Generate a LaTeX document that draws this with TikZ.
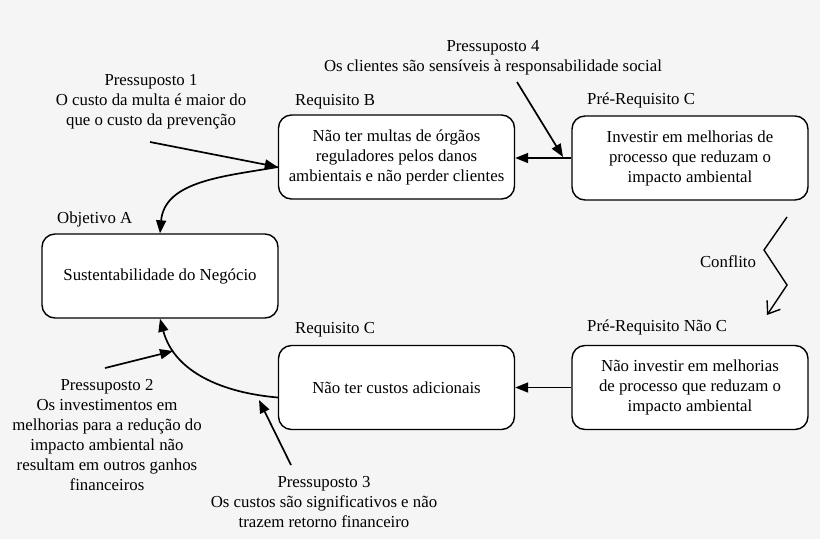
\documentclass[tikz,border=0pt]{standalone}
\usepackage{fontspec}
\setmainfont{Liberation Serif}
\usetikzlibrary{arrows.meta}
\definecolor{bgcol}{HTML}{F5F5F5}
\begin{document}
\begin{tikzpicture}[x=1pt,y=1pt,
  every node/.style={font=\rmfamily\fontsize{16.8}{20}\selectfont, inner sep=0pt},
  box/.style={draw, line width=1.4pt, rounded corners=13pt, fill=white, align=center,
    minimum width=236pt, minimum height=84pt},
  lbl/.style={align=center},
  arr/.style={line width=1.7pt, -{Triangle[length=13pt,width=10pt]}},
  conf/.style={line width=1.4pt, -{Straight Barb[length=11pt,width=16pt,line width=1.4pt]}}
]
\fill[bgcol] (0,0) rectangle (820,-539);
\useasboundingbox (0,0) rectangle (820,-539);

% boxes
\node[box] (objA) at (160,-276) {Sustentabilidade do Negócio};
\node[box] (reqB) at (396.5,-157) {Não ter multas de órgãos\\reguladores pelos danos\\ambientais e não perder clientes};
\node[box] (preC) at (690,-158) {Investir em melhorias de\\processo que reduzam o\\impacto ambiental};
\node[box] (reqC) at (396.5,-387.5) {Não ter custos adicionais};
\node[box] (preNC) at (690,-387.5) {Não investir em melhorias\\de processo que reduzam o\\impacto ambiental};

% titles
\node[anchor=west] (tA) at (57,-219) {Objetivo A};
\node[anchor=west] (tB) at (295,-102) {Requisito B};
\node[anchor=west] (tPC) at (587,-100) {Pré-Requisito C};
\node[anchor=west] (tC) at (295,-330) {Requisito C};
\node[anchor=west] (tPNC) at (587,-327) {Pré-Requisito Não C};

% assumptions
\node[lbl] (p1) at (151,-102) {Pressuposto 1\\O custo da multa é maior do\\que o custo da prevenção};
\node[lbl] (p4) at (493,-58) {Pressuposto 4\\Os clientes são sensíveis à responsabilidade social};
\node[lbl] (p2) at (107,-435) {Pressuposto 2\\Os investimentos em\\melhorias para a redução do\\impacto ambiental não\\resultam em outros ganhos\\financeiros};
\node[lbl] (p3) at (324,-502) {Pressuposto 3\\Os custos são significativos e não\\trazem retorno financeiro};
\node[lbl] (cf) at (728,-262) {Conflito};

% coordinates
\coordinate (bIn) at ([yshift=-10pt]reqB.west);
\coordinate (cOut) at ([yshift=-10pt]reqC.west);
\coordinate (p1s) at (150,-142);
\coordinate (p4s) at (517,-82);
\coordinate (p4e) at (563,-157);
\coordinate (p2s) at (105,-368);
\coordinate (p2e) at (173,-351);
\coordinate (p3s) at (291,-465);
\coordinate (p3e) at (259,-400);
\coordinate (z1) at (787,-217);
\coordinate (z2) at (764,-250);
\coordinate (z3) at (787,-285);
\coordinate (z4) at (767,-315);

% connectors
\draw[arr] (p1s) -- (bIn);
\draw[arr] (bIn) to[out=190,in=85] (objA.north);
\draw[arr] (preC.west) -- (preC.west -| reqB.east);
\draw[arr] (p4s) -- (p4e);
\draw[arr] (preNC.west) -- (preNC.west -| reqC.east);
\draw[arr] (cOut) to[out=175,in=-75] (objA.south);
\draw[arr] (p2s) -- (p2e);
\draw[arr] (p3s) -- (p3e);
\draw[conf] (z1) -- (z2) -- (z3) -- (z4);
\end{tikzpicture}
\end{document}
